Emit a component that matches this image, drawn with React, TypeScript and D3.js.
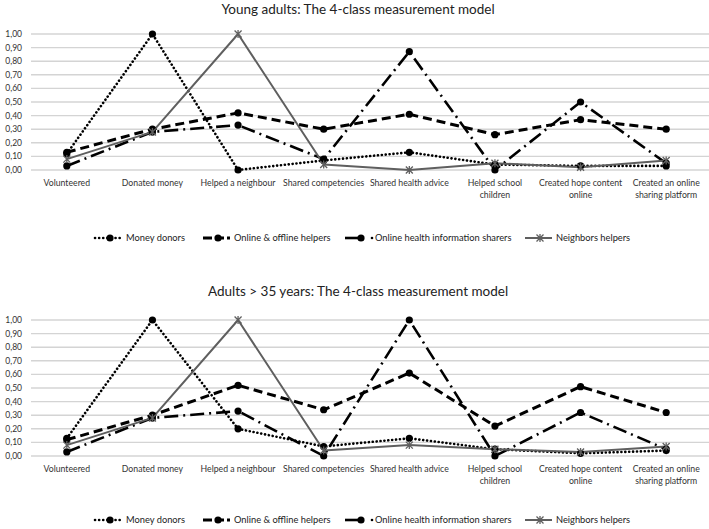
import * as d3 from "d3";
import React, { useEffect, useRef } from "react";

const categories = [
  "Volunteered",
  "Donated money",
  "Helped a neighbour",
  "Shared competencies",
  "Shared health advice",
  "Helped school children",
  "Created hope content online",
  "Created an online sharing platform",
];

// wrapped axis labels, as the chart prints them
const categoryLines: Record<string, string[]> = {
  "Helped school children": ["Helped school", "children"],
  "Created hope content online": ["Created hope content", "online"],
  "Created an online sharing platform": ["Created an online", "sharing platform"],
};

const seriesNames = [
  "Money donors",
  "Online & offline helpers",
  "Online health information sharers",
  "Neighbors helpers",
];

// Young adults
const youngMoney = [0.12, 1.0, 0.0, 0.07, 0.13, 0.04, 0.03, 0.03];
const youngOnOff = [0.13, 0.3, 0.42, 0.3, 0.41, 0.26, 0.37, 0.3];
const youngHealth = [0.03, 0.28, 0.33, 0.08, 0.87, 0.0, 0.5, 0.05];
const youngNeighbors = [0.08, 0.28, 1.0, 0.04, 0.0, 0.05, 0.02, 0.07];

// Adults > 35
const adultMoney = [0.13, 1.0, 0.2, 0.07, 0.13, 0.05, 0.02, 0.04];
const adultOnOff = [0.12, 0.3, 0.52, 0.34, 0.61, 0.22, 0.51, 0.32];
const adultHealth = [0.03, 0.28, 0.33, 0.0, 1.0, 0.0, 0.32, 0.05];
const adultNeighbors = [0.08, 0.28, 1.0, 0.04, 0.08, 0.05, 0.03, 0.07];

const yTicks = [0, 0.1, 0.2, 0.3, 0.4, 0.5, 0.6, 0.7, 0.8, 0.9, 1.0];

const STYLES = [
  { stroke: "#000", width: 2.6, dash: "0.1 3.8", cap: "round", marker: "circle" },
  { stroke: "#000", width: 3, dash: "9 5", cap: "butt", marker: "circle" },
  { stroke: "#000", width: 2.6, dash: "14 5 2 5", cap: "butt", marker: "circle" },
  { stroke: "#5f5f5f", width: 2, dash: null, cap: "butt", marker: "star" },
];

const LEGEND_X = [95, 203, 345, 525];
const FONT = "Lato, 'Open Sans', sans-serif";

const fmt = d3.formatLocale({
  decimal: ",",
  thousands: ".",
  grouping: [3],
  currency: ["", ""],
}).format(".2f");

function drawChart(
  root: d3.Selection<SVGGElement, unknown, null, undefined>,
  title: string,
  series: number[][],
  top: number,
  titleY: number,
  legendY: number,
) {
  const plotTop = top + 34;
  const plotBottom = top + 170;

  const x = d3.scaleBand().domain(categories).range([24, 709]);
  const y = d3.scaleLinear().domain([0, 1]).range([plotBottom, plotTop]);

  root
    .append("text")
    .attr("x", 358)
    .attr("y", titleY)
    .attr("text-anchor", "middle")
    .style("font-size", "13.5px")
    .style("font-family", FONT)
    .attr("fill", "#222")
    .text(title);

  // grid
  root
    .selectAll(null)
    .data(yTicks)
    .join("line")
    .attr("x1", 31)
    .attr("x2", 709)
    .attr("y1", (d) => y(d))
    .attr("y2", (d) => y(d))
    .attr("stroke", "#d4d4d4")
    .attr("stroke-width", 1.4);

  root
    .selectAll(null)
    .data(yTicks)
    .join("text")
    .attr("x", 22)
    .attr("y", (d) => y(d))
    .attr("dy", "0.35em")
    .attr("text-anchor", "end")
    .style("font-size", "8.5px")
    .style("font-family", FONT)
    .attr("fill", "#333")
    .text((d) => fmt(d));

  // category labels
  const cat = root
    .selectAll(null)
    .data(categories)
    .join("text")
    .attr("text-anchor", "middle")
    .style("font-size", "8.7px")
    .style("font-family", FONT)
    .attr("fill", "#333");
  cat
    .selectAll("tspan")
    .data((d) => (categoryLines[d] || [d]).map((t) => ({ t, c: d })))
    .join("tspan")
    .attr("x", (d) => x(d.c)! + x.bandwidth() / 2)
    .attr("y", (_, i) => plotBottom + 16 + i * 11.5)
    .text((d) => d.t);

  const line = d3
    .line<number>()
    .x((_, i) => x(categories[i])! + x.bandwidth() / 2)
    .y((d) => y(d));

  series.forEach((vals, si) => {
    const s = STYLES[si];
    root
      .append("path")
      .attr("d", line(vals))
      .attr("fill", "none")
      .attr("stroke", s.stroke)
      .attr("stroke-width", s.width)
      .attr("stroke-dasharray", s.dash)
      .attr("stroke-linecap", s.cap)
      .attr("stroke-linejoin", "round");
  });

  series.forEach((vals, si) => {
    const s = STYLES[si];
    vals.forEach((v, i) => {
      const cx = x(categories[i])! + x.bandwidth() / 2;
      drawMarker(root, s, cx, y(v));
    });
  });

  // legend
  seriesNames.forEach((name, si) => {
    const s = STYLES[si];
    const lx = LEGEND_X[si];
    const g = root.append("g");
    if (si === 2) {
      g.append("line")
        .attr("x1", lx)
        .attr("x2", lx + 16)
        .attr("y1", legendY)
        .attr("y2", legendY)
        .attr("stroke", "#000")
        .attr("stroke-width", s.width);
      g.append("circle")
        .attr("cx", lx + 27)
        .attr("cy", legendY)
        .attr("r", 1.3)
        .attr("fill", "#000");
      drawMarker(g, s, lx + 16, legendY);
      g.append("text")
        .attr("x", lx + 30)
        .attr("y", legendY)
        .attr("dy", "0.35em")
        .style("font-size", "9.3px")
        .style("font-family", FONT)
        .attr("fill", "#222")
        .text(name);
      return;
    }
    g.append("line")
      .attr("x1", lx)
      .attr("x2", lx + 27)
      .attr("y1", legendY)
      .attr("y2", legendY)
      .attr("stroke", s.stroke)
      .attr("stroke-width", s.width)
      .attr("stroke-dasharray", si === 0 ? "0.1 4" : si === 1 ? "9 3" : null)
      .attr("stroke-linecap", s.cap);
    drawMarker(g, s, lx + 15, legendY);
    g.append("text")
      .attr("x", lx + 31)
      .attr("y", legendY)
      .attr("dy", "0.35em")
      .style("font-size", "9.3px")
      .style("font-family", FONT)
      .attr("fill", "#222")
      .text(name);
  });
}

function drawMarker(
  g: d3.Selection<SVGGElement, unknown, null, undefined>,
  s: (typeof STYLES)[number],
  cx: number,
  cy: number,
) {
  if (s.marker === "circle") {
    g.append("circle").attr("cx", cx).attr("cy", cy).attr("r", 3.6).attr("fill", "#000");
  } else {
    const r = 3.5;
    const p = `M${cx - r},${cy - r}L${cx + r},${cy + r}M${cx - r},${cy + r}L${cx + r},${cy - r}M${cx},${cy - r - 0.5}L${cx},${cy + r + 0.5}`;
    g.append("path").attr("d", p).attr("stroke", s.stroke).attr("stroke-width", 1.3).attr("fill", "none");
  }
}

export default function App() {
  const ref = useRef<SVGSVGElement>(null);

  useEffect(() => {
    if (!ref.current) return;
    const svg = d3.select(ref.current);
    svg.selectAll("*").remove();
    svg.append("rect").attr("width", 709).attr("height", 529).attr("fill", "#fff");
    const g = svg.append("g") as d3.Selection<SVGGElement, unknown, null, undefined>;

    drawChart(
      g.append("g"),
      "Young adults: The 4-class measurement model",
      [youngMoney, youngOnOff, youngHealth, youngNeighbors],
      0,
      14,
      238,
    );
    drawChart(
      g.append("g"),
      "Adults > 35 years: The 4-class measurement model",
      [adultMoney, adultOnOff, adultHealth, adultNeighbors],
      286,
      296,
      520,
    );
  }, []);

  return (
    <svg
      ref={ref}
      width={709}
      height={529}
      style={{ position: "fixed", left: 0, top: 0, display: "block" }}
    />
  );
}
